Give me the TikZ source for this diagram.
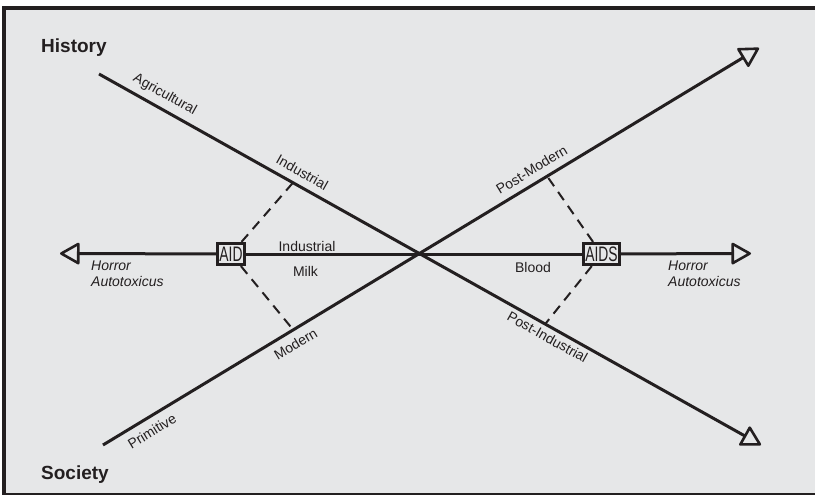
\documentclass[tikz,border=0pt]{standalone}
\usepackage{fontspec}
\usepackage{graphicx}
\setmainfont{Liberation Sans}
\usetikzlibrary{arrows.meta,calc}
\definecolor{bg}{HTML}{E6E7E8}
\definecolor{ink}{HTML}{231F20}
\newcommand{\boxtxt}[1]{\scalebox{0.66}[1]{#1}}
\tikzset{
  >={Triangle[open,length=21pt,width=23pt,line width=2.6pt,round]},
  axisline/.style={line width=3pt, draw=ink, line cap=butt},
  dashline/.style={line width=2pt, draw=ink, dash pattern=on 10pt off 7pt},
  boxnode/.style={draw=ink, line width=3.2pt, fill=bg, inner xsep=1.8pt, inner ysep=0pt,
    minimum height=21pt, text height=15pt, text depth=0pt, text=ink,
    font=\fontsize{21}{21}\selectfont},
  lbl/.style={inner sep=0pt, text=ink, font=\fontsize{14}{16.5}\selectfont},
  itlbl/.style={lbl, align=left, font=\fontsize{14}{16.5}\selectfont\itshape},
  titlelbl/.style={inner sep=0pt, text=ink, font=\fontsize{19}{19}\selectfont\bfseries}
}
\begin{document}
\begin{tikzpicture}[x=1pt,y=-1pt]
\useasboundingbox (0,0) rectangle (815,495);
% frame
\begin{scope}
  \clip (0,0) rectangle (815,495);
  \draw[line width=4pt, draw=ink, fill=bg] (4,8) rectangle (840,495);
\end{scope}
% coordinates of the lines
\coordinate (hs) at (99,74);
\coordinate (he) at (761,445);
\coordinate (ss) at (103,445);
\coordinate (se) at (759,48);
\coordinate (ml) at (60,253.5);
\coordinate (mr) at (751,253.5);
\coordinate (hInd) at ($(hs)!0.293!(he)$);
\coordinate (hPI) at ($(hs)!0.674!(he)$);
\coordinate (sMod) at ($(ss)!0.290!(se)$);
\coordinate (sPM) at ($(ss)!0.677!(se)$);
% label anchor points on lines
\coordinate (pAgr) at ($(hs)!0.089!(he)$);
\coordinate (pInd) at ($(hs)!0.297!(he)$);
\coordinate (pPI) at ($(hs)!0.685!(he)$);
\coordinate (pPri) at ($(ss)!0.064!(se)$);
\coordinate (pMod) at ($(ss)!0.283!(se)$);
\coordinate (pPM) at ($(ss)!0.664!(se)$);
% diagonal lines
\draw[axisline,->] (hs) -- (he);
\draw[axisline,->] (ss) -- (se);
% boxes
\node[boxnode] (aid) at (231,254) {\boxtxt{AID}};
\node[boxnode] (aids) at (601.5,254) {\boxtxt{AIDS}};
% horizontal line
\draw[axisline,<-] (ml) -- (aid);
\draw[axisline] (aid) -- (aids);
\draw[axisline,->] (aids) -- (mr);
% dashed connectors
\draw[dashline] (aid) -- (hInd);
\draw[dashline] (aid) -- (sMod);
\draw[dashline] (aids) -- (sPM);
\draw[dashline] (aids) -- (hPI);
% sloped labels
\node[lbl, rotate=-29.27] (tAgr) at ($(pAgr)!14pt!90:(he)$) {Agricultural};
\node[lbl, rotate=-29.27] (tInd) at ($(pInd)!13.6pt!90:(he)$) {Industrial};
\node[lbl, rotate=-29.27] (tPI) at ($(pPI)!10.2pt!-90:(he)$) {Post-Industrial};
\node[lbl, rotate=31.18] (tPri) at ($(pPri)!13.5pt!-90:(se)$) {Primitive};
\node[lbl, rotate=31.18] (tMod) at ($(pMod)!13.3pt!-90:(se)$) {Modern};
\node[lbl, rotate=31.18] (tPM) at ($(pPM)!13.5pt!90:(se)$) {Post-Modern};
% horizontal labels
\node[lbl, anchor=base] (tInd2) at (307,251) {Industrial};
\node[lbl, anchor=base] (tMilk) at (305.5,276) {Milk};
\node[lbl, anchor=base] (tBlood) at (533,272) {Blood};
\node[itlbl, anchor=north west] (hl) at (91,260.5) {Horror\\Autotoxicus};
\node[itlbl, anchor=north west] (hr) at (668,260.5) {Horror\\Autotoxicus};
% titles
\node[titlelbl, anchor=base west] (tHist) at (41,52.7) {History};
\node[titlelbl, anchor=base west] (tSoc) at (41,479) {Society};
\end{tikzpicture}
\end{document}
